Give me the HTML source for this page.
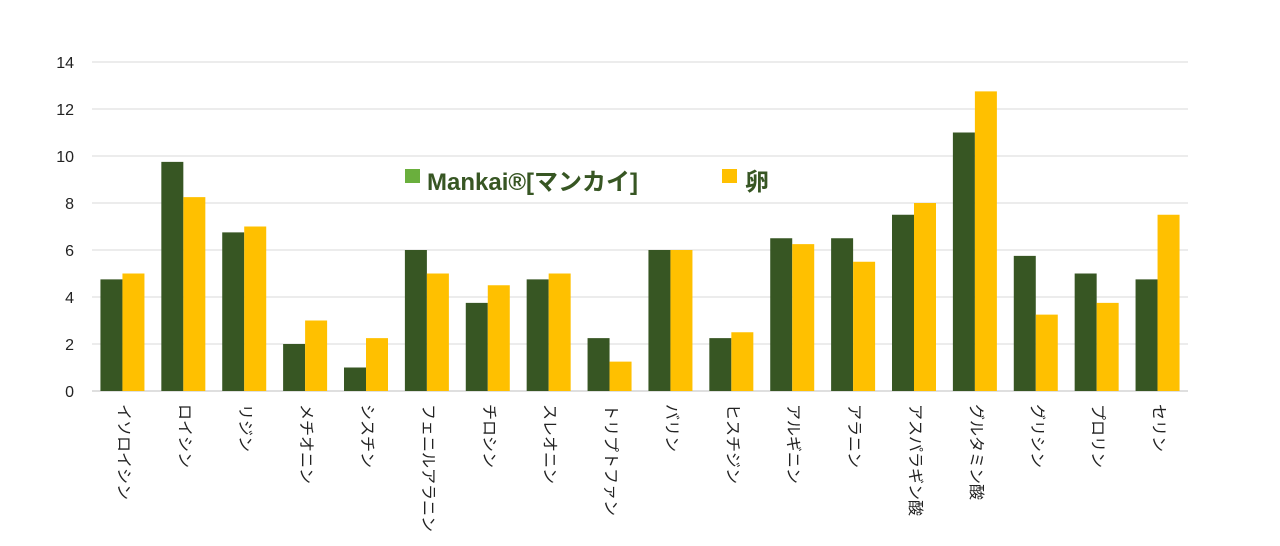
<!DOCTYPE html>
<html><head><meta charset="utf-8">
<style>
html,body{margin:0;padding:0;background:#fff;}
body{width:1280px;height:546px;overflow:hidden;position:relative;font-family:"Liberation Sans","Noto Sans CJK JP",sans-serif;}
svg{position:absolute;left:0;top:0;}
.lbl{position:absolute;top:404px;writing-mode:vertical-rl;text-orientation:sideways;font-size:16px;color:#222;font-family:"Liberation Sans","Noto Sans CJK JP",sans-serif;line-height:16px;white-space:nowrap;}
</style></head>
<body>
<svg id="chart" width="1280" height="546"></svg>
<div>
 <div style="position:absolute;left:405px;top:169px;width:15px;height:14px;background:#6AAF3D"></div>
 <div style="position:absolute;left:427px;top:162px;font-size:24px;font-weight:bold;color:#375623;font-family:'Liberation Sans','Noto Sans CJK JP',sans-serif;white-space:nowrap">Mankai®[マンカイ]</div>
 <div style="position:absolute;left:722px;top:169px;width:15px;height:14px;background:#FFC000"></div>
 <div style="position:absolute;left:745px;top:162px;font-size:24px;font-weight:bold;color:#375623;font-family:'Liberation Sans','Noto Sans CJK JP',sans-serif">卵</div>
</div>
<div id="labels"></div>
<script>
const categories=["イソロイシン","ロイシン","リジン","メチオニン","シスチン","フェニルアラニン","チロシン","スレオニン","トリプトファン","バリン","ヒスチジン","アルギニン","アラニン","アスパラギン酸","グルタミン酸","グリシン","プロリン","セリン"];
const mankai=[4.75,9.75,6.75,2,1,6,3.75,4.75,2.25,6,2.25,6.5,6.5,7.5,11,5.75,5,4.75];
const egg=[5,8.25,7,3,2.25,5,4.5,5,1.25,6,2.5,6.25,5.5,8,12.75,3.25,3.75,7.5];
const yTicks=[0,2,4,6,8,10,12,14];

const NS="http://www.w3.org/2000/svg";
const svg=document.getElementById('chart');
const x0=92,x1=1188,yTop=62,yBot=391,yMax=14;
const band=(x1-x0)/categories.length;
const y=v=>yBot-(v/yMax)*(yBot-yTop);
const xc=i=>x0+band*(i+0.5);
function mk(t,a){const e=document.createElementNS(NS,t);for(const k in a)e.setAttribute(k,a[k]);svg.appendChild(e);return e;}
yTicks.forEach(t=>{
  const g=mk('line',{x1:x0,x2:x1,y1:y(t),y2:y(t),stroke:t===0?'#bfbfbf':'#d9d9d9','stroke-width':1});
  
  
  const tx=mk('text',{x:74,y:y(t)+6,'text-anchor':'end','font-size':16,fill:'#222','font-family':'Liberation Sans, sans-serif'});
  tx.textContent=t;
  
  
});
const bw=22;
const labels=document.getElementById('labels');
categories.forEach((c,i)=>{
  const r1=mk('rect',{x:xc(i)-bw,y:y(mankai[i]),width:bw,height:yBot-y(mankai[i]),fill:'#375623'});
  
  
  const r2=mk('rect',{x:xc(i),y:y(egg[i]),width:bw,height:yBot-y(egg[i]),fill:'#FFC000'});
  
  
  const d=document.createElement('div');
  d.className='lbl';
  d.style.left=(xc(i)-8)+'px';
  d.textContent=c;
  
  
  labels.appendChild(d);
});
</script>
</body></html>
